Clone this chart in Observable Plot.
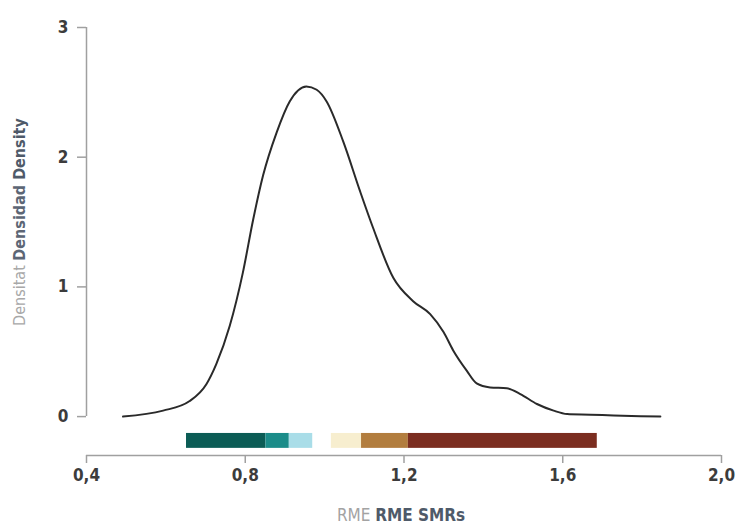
<!DOCTYPE html>
<html>
<head>
<meta charset="utf-8">
<script src="https://cdn.jsdelivr.net/npm/d3@7"></script>
<script src="https://cdn.jsdelivr.net/npm/@observablehq/plot@0.6"></script>
<style>
  html, body { margin: 0; padding: 0; background: #fff; }
  #chart svg { display: block; }
</style>
</head>
<body>
<div id="chart"></div>
<script>
// Density curve (x = RME/SMR, y = density)
const curveX = [0.492, 0.593, 0.66, 0.702, 0.727, 0.761, 0.794, 0.82, 0.845, 0.879, 0.912, 0.954, 0.98, 1.005, 1.047, 1.089, 1.122, 1.173, 1.223, 1.266, 1.30, 1.324, 1.358, 1.383, 1.417, 1.459, 1.493, 1.535, 1.577, 1.611, 1.67, 1.728, 1.796, 1.846];
const curveY = [0.0, 0.046, 0.12, 0.25, 0.405, 0.70, 1.11, 1.52, 1.86, 2.19, 2.43, 2.546, 2.52, 2.43, 2.12, 1.74, 1.456, 1.07, 0.89, 0.79, 0.65, 0.51, 0.354, 0.256, 0.225, 0.218, 0.174, 0.097, 0.046, 0.02, 0.015, 0.008, 0.002, 0.0];

// Colour bar segments (start, end, colour)
const segStart = [0.652, 0.852, 0.911, 1.017, 1.093, 1.211];
const segEnd   = [0.852, 0.911, 0.970, 1.093, 1.211, 1.687];
const segColor = ["#0b5c55", "#1b8c89", "#a9dde8", "#f7eecf", "#b27d3e", "#7b2d20"];

const xTicks = [0.4, 0.8, 1.2, 1.6, 2.0];
const yTicks = [0, 1, 2, 3];

const curve = curveX.map((x, i) => ({x, y: curveY[i]}));
const segs = segStart.map((s, i) => ({s, e: segEnd[i], c: segColor[i]}));

const fontFam = "'DejaVu Sans Condensed', 'Liberation Sans', sans-serif";
const axisGrey = "#a0a0a0";

const svg = Plot.plot({
  width: 739,
  height: 525,
  marginLeft: 86,
  marginRight: 18,
  marginTop: 27,
  marginBottom: 70,
  style: {fontFamily: fontFam, fontSize: "17px", color: "#444", background: "#fff"},
  x: {domain: [0.4, 2.0]},
  y: {domain: [-0.3, 3]},
  marks: [
    Plot.ruleX([0.4], {y1: 0, y2: 3, stroke: axisGrey, strokeWidth: 1.5}),
    Plot.ruleY([-0.3], {x1: 0.4, x2: 2.0, stroke: axisGrey, strokeWidth: 1.5}),
    Plot.axisY({ticks: yTicks, tickSize: 9, tickPadding: 9, stroke: axisGrey, strokeWidth: 1.5, label: null, tickFormat: d => String(d), fill: "#3c3c3c", fontWeight: "bold"}),
    Plot.axisX({ticks: xTicks, tickSize: 8, tickPadding: 5, stroke: axisGrey, strokeWidth: 1.5, label: null, tickFormat: d => d.toFixed(1).replace(".", ","), fill: "#3c3c3c", fontWeight: "bold"}),
    Plot.rect(segs, {x1: "s", x2: "e", y1: -0.13, y2: -0.245, fill: "c"}),
    Plot.line(curve, {x: "x", y: "y", curve: "monotone-x", stroke: "#2a2a2a", strokeWidth: 2})
  ]
});

const s = d3.select(svg);
// X axis title
const xt = s.append("text")
  .attr("x", 401).attr("y", 521)
  .attr("text-anchor", "middle")
  .style("font-family", fontFam)
  .style("font-size", "17px");
xt.append("tspan").attr("fill", "#a3a3a3").text("RME ");
xt.append("tspan").attr("fill", "#4f5a69").attr("font-weight", "bold").text("RME SMRs");

// Y axis title
const yt = s.append("text")
  .attr("transform", "translate(25,222) rotate(-90)")
  .attr("text-anchor", "middle")
  .style("font-family", fontFam)
  .style("font-size", "16px");
yt.append("tspan").attr("fill", "#a8a8a8").text("Densitat ");
yt.append("tspan").attr("fill", "#5c6675").attr("font-weight", "bold").text("Densidad ");
yt.append("tspan").attr("fill", "#4f5a69").attr("font-weight", "bold").text("Density");

document.getElementById("chart").appendChild(svg);
</script>
</body>
</html>
